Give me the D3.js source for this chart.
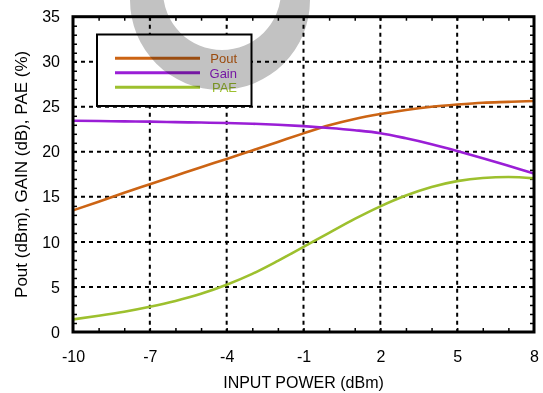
<!DOCTYPE html>
<html>
<head>
<meta charset="utf-8">
<script src="https://cdn.jsdelivr.net/npm/d3@7"></script>
<style>
  body { margin: 0; background: #fff; }
  text { font-family: "Liberation Sans", Arial, Helvetica, sans-serif; }
</style>
</head>
<body>
<div id="chart"></div>
<script>
var width = 543;
var height = 393;

// values
var inputPower = [-10, -9, -8, -7, -6, -5, -4, -3, -2, -1, 0, 1, 2, 3, 4, 5, 6, 7, 8];
var pout = [13.5, 14.45, 15.45, 16.4, 17.35, 18.3, 19.2, 20.15, 21.1, 22.05, 22.95, 23.65, 24.2, 24.65, 25.0, 25.25, 25.45, 25.55, 25.65];
var gain = [23.45, 23.42, 23.38, 23.35, 23.3, 23.25, 23.2, 23.12, 23.0, 22.85, 22.65, 22.4, 22.07, 21.5, 20.85, 20.1, 19.3, 18.45, 17.6];
var pae = [1.4, 1.8, 2.25, 2.8, 3.45, 4.25, 5.25, 6.45, 7.9, 9.45, 11.0, 12.55, 13.95, 15.15, 16.1, 16.75, 17.1, 17.2, 17.05];

var xTicks = [-10, -7, -4, -1, 2, 5, 8];
var yTicks = [0, 5, 10, 15, 20, 25, 30, 35];
var seriesNames = ["Pout", "Gain", "PAE"];
var seriesColors = ["#cc6414", "#9a1ed6", "#9dc02e"];

var plotLeft = 73, plotRight = 534, plotTop = 16.7, plotBottom = 332;

var svg = d3.select("#chart")
      .append("svg")
      .attr("width", width)
      .attr("height", height);

var x = d3.scaleLinear().domain([-10, 8]).range([plotLeft, plotRight]);
var y = d3.scaleLinear().domain([0, 35]).range([plotBottom, plotTop]);

// dashed grid
var grid = svg.append("g")
  .attr("stroke", "#000")
  .attr("stroke-width", 2)
  .attr("stroke-dasharray", "4,4");

grid.selectAll(".vg")
  .data(xTicks.slice(1, -1))
  .enter().append("line")
  .attr("x1", function(d){ return x(d); })
  .attr("x2", function(d){ return x(d); })
  .attr("y1", plotTop)
  .attr("y2", plotBottom);

grid.selectAll(".hg")
  .data(yTicks.slice(1, -1))
  .enter().append("line")
  .attr("x1", plotLeft)
  .attr("x2", plotRight)
  .attr("y1", function(d){ return y(d); })
  .attr("y2", function(d){ return y(d); });

// minor ticks pointing inwards on all four sides
var xMinor = d3.range(-9, 8, 1);
var yMinor = d3.range(1, 35, 1);

function minorStyle(g){
  g.select(".domain").remove();
  g.selectAll("line").attr("stroke-width", 1.5);
}

svg.append("g").attr("transform", "translate(0," + plotBottom + ")")
  .call(d3.axisTop(x).tickValues(xMinor).tickSize(4).tickFormat(""))
  .call(minorStyle);
svg.append("g").attr("transform", "translate(0," + plotTop + ")")
  .call(d3.axisBottom(x).tickValues(xMinor).tickSize(4).tickFormat(""))
  .call(minorStyle);
svg.append("g").attr("transform", "translate(" + plotLeft + ",0)")
  .call(d3.axisRight(y).tickValues(yMinor).tickSize(4).tickFormat(""))
  .call(minorStyle);
svg.append("g").attr("transform", "translate(" + plotRight + ",0)")
  .call(d3.axisLeft(y).tickValues(yMinor).tickSize(4).tickFormat(""))
  .call(minorStyle);

// tick labels
function labelStyle(g){
  g.select(".domain").remove();
  g.selectAll("text").attr("font-size", 16).attr("fill", "#000")
    .style("font-family", "'Liberation Sans', Arial, sans-serif");
}

svg.append("g").attr("transform", "translate(0," + plotBottom + ")")
  .call(d3.axisBottom(x).tickValues(xTicks).tickSize(0).tickPadding(19).tickFormat(function(d){ return String(d); }))
  .call(labelStyle);

svg.append("g").attr("transform", "translate(" + plotLeft + ",0)")
  .call(d3.axisLeft(y).tickValues(yTicks).tickSize(0).tickPadding(13).tickFormat(function(d){ return String(d); }))
  .call(labelStyle);

// axis titles
svg.append("text")
  .attr("x", (plotLeft + plotRight) / 2)
  .attr("y", 388)
  .attr("text-anchor", "middle")
  .attr("font-size", 16)
  .text("INPUT POWER (dBm)");

svg.append("text")
  .attr("transform", "translate(27," + ((plotTop + plotBottom) / 2) + ") rotate(-90)")
  .attr("text-anchor", "middle")
  .attr("font-size", 17)
  .text("Pout (dBm), GAIN (dB), PAE (%)");

// curves
var series = [pout, gain, pae];
var line = d3.line()
  .x(function(d, i){ return x(inputPower[i]); })
  .y(function(d){ return y(d); })
  .curve(d3.curveMonotoneX);

svg.append("g").selectAll("path")
  .data(series)
  .enter().append("path")
  .attr("d", line)
  .attr("fill", "none")
  .attr("stroke", function(d, i){ return seriesColors[i]; })
  .attr("stroke-width", 2.6);

// frame
svg.append("rect")
  .attr("x", plotLeft)
  .attr("y", plotTop)
  .attr("width", plotRight - plotLeft)
  .attr("height", plotBottom - plotTop)
  .attr("fill", "none")
  .attr("stroke", "#000")
  .attr("stroke-width", 3);

// legend
var legend = svg.append("g");
legend.append("rect")
  .attr("x", 97)
  .attr("y", 34.5)
  .attr("width", 154.5)
  .attr("height", 71.5)
  .attr("fill", "#fff")
  .attr("stroke", "#000")
  .attr("stroke-width", 2);

legend.selectAll(".ll")
  .data(seriesNames)
  .enter().append("line")
  .attr("x1", 115)
  .attr("x2", 200)
  .attr("y1", function(d, i){ return 58.3 + i * 14.5; })
  .attr("y2", function(d, i){ return 58.3 + i * 14.5; })
  .attr("stroke", function(d, i){ return seriesColors[i]; })
  .attr("stroke-width", 3);

legend.selectAll(".lt")
  .data(seriesNames)
  .enter().append("text")
  .attr("x", 237)
  .attr("y", function(d, i){ return 63 + i * 14.5; })
  .attr("text-anchor", "end")
  .attr("font-size", 13)
  .attr("fill", function(d, i){ return seriesColors[i]; })
  .text(function(d){ return d; });

// grey ring watermark across the top
var ring = d3.path();
ring.moveTo(220 + 90, 0);
ring.arc(220, 0, 90, 0, 2 * Math.PI);
ring.moveTo(222 + 59, -9);
ring.arc(222, -9, 59, 0, 2 * Math.PI);

svg.append("path")
  .attr("d", ring.toString())
  .attr("fill", "#c2c2c2")
  .attr("fill-rule", "evenodd")
  .style("mix-blend-mode", "multiply");
</script>
</body>
</html>
